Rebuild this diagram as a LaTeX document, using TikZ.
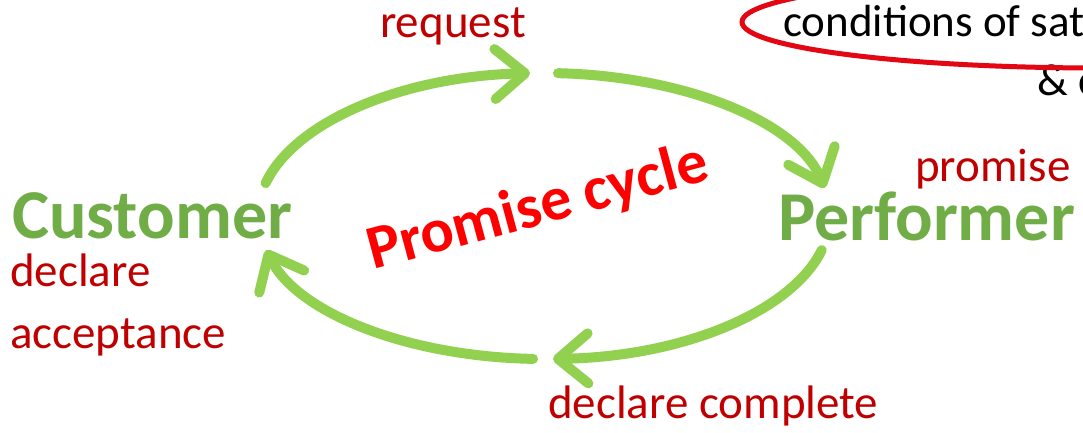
\documentclass[tikz,border=0pt]{standalone}
\usepackage{fontspec}
\setmainfont{Carlito}
\usetikzlibrary{arrows.meta,calc}

\definecolor{arcgreen}{HTML}{92D050}
\definecolor{rolegreen}{HTML}{70AD47}
\definecolor{actred}{HTML}{C00000}
\definecolor{titlered}{HTML}{FF0000}
\definecolor{ringred}{HTML}{E30613}

\tikzset{
  role/.style={inner sep=0pt, anchor=base west, text=rolegreen, font=\fontsize{70}{70}\selectfont\bfseries},
  act/.style={inner sep=0pt, anchor=base west, text=actred, font=\fontsize{47}{47}\selectfont},
  note/.style={inner sep=0pt, anchor=base west, text=black, font=\fontsize{45}{45}\selectfont},
  cyclearc/.style={draw=arcgreen, line width=10pt, line cap=round,
    -{Straight Barb[length=30pt,width=50pt,round]}},
  ring/.style={draw=ringred, line width=5pt},
}

\begin{document}
\begin{tikzpicture}[x=1pt,y=1pt]
\useasboundingbox (0,0) rectangle (1083,432);
\clip (0,0) rectangle (1083,432);
\fill[white] (0,0) rectangle (1083,432);

% roles and speech acts
\node[role] (customer) at (12,194) {Customer};
\node[role] (performer) at (778,192) {Performer};
\node[act] (request) at (380,394) {request};
\node[act] (promise) at (915,251) {promise};
\node[act] (declare) at (10,146) {declare};
\node[act] (accept) at (10,84) {acceptance};
\node[act] (complete) at (548,14) {declare complete};

% conditions note with its highlight ring
\node[note] (cond) at (783,395) {conditions of sat};
\node[note] (amp) at (1037,337) {\& c};
\draw[ring] (1100,410) ellipse[x radius=358pt, y radius=46pt];

% title of the cycle
\node[inner sep=0pt, anchor=base west, rotate=15, text=titlered,
      font=\fontsize{62}{62}\selectfont\bfseries] (title) at (373,162) {Promise cycle};

% the cycle: four arcs of one ellipse
\coordinate (c) at (544,216);
\coordinate (s1) at ($(c)+(166.7:286 and 143)$);
\coordinate (s2) at ($(c)+(87.2:286 and 143)$);
\coordinate (s3) at ($(c)+(-13.8:286 and 143)$);
\coordinate (s4) at ($(c)+(-92.2:286 and 143)$);
\draw[cyclearc] (s1) arc[start angle=166.7, end angle=92.8, x radius=286pt, y radius=143pt];
\draw[cyclearc] (s2) arc[start angle=87.2, end angle=11.3, x radius=286pt, y radius=143pt];
\draw[cyclearc] (s3) arc[start angle=-13.8, end angle=-88.2, x radius=286pt, y radius=143pt];
\draw[cyclearc] (s4) arc[start angle=-92.2, end angle=-166.2, x radius=286pt, y radius=143pt];
\end{tikzpicture}
\end{document}
